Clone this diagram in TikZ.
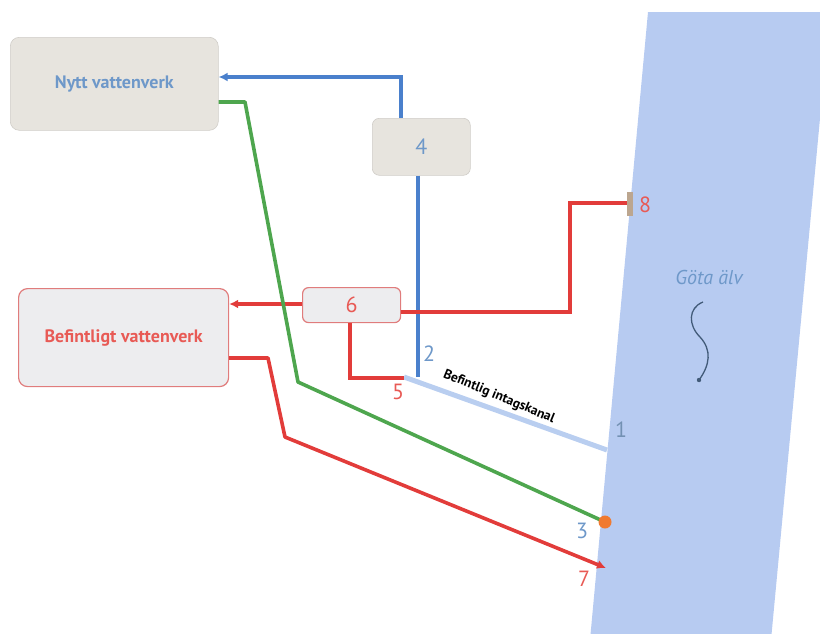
\documentclass[tikz,border=0pt]{standalone}
\usepackage{fontspec}
\setmainfont{PT Sans}
\usetikzlibrary{arrows.meta}
\definecolor{riverc}{HTML}{B7CBF1}
\definecolor{beige}{HTML}{E7E4DE}
\definecolor{greyfill}{HTML}{EDEDEF}
\definecolor{boxred}{HTML}{E07C7C}
\definecolor{lblue}{HTML}{4A80CC}
\definecolor{tblue}{HTML}{6E98C9}
\definecolor{lgreen}{HTML}{4EA64E}
\definecolor{lred}{HTML}{E23C3A}
\definecolor{tred}{HTML}{E85A55}
\definecolor{canal}{HTML}{B9CEF0}
\definecolor{dot}{HTML}{F07A30}
\begin{document}
\begin{tikzpicture}[x=1pt,y=-1pt,
  newbox/.style={draw=beige!90!black, fill=beige, rounded corners=9pt, line width=0.6pt, inner sep=0pt, anchor=north west},
  oldbox/.style={draw=boxred, fill=greyfill, rounded corners=9pt, line width=1.2pt, inner sep=0pt, anchor=north west},
  bigtxt/.style={font=\bfseries\fontsize{18}{20}\selectfont},
  numtxt/.style={font=\fontsize{22}{24}\selectfont, inner sep=0pt},
  bline/.style={lblue, line width=3.6pt},
  gline/.style={lgreen, line width=3.6pt},
  rline/.style={lred, line width=3.6pt},
  tip/.style={-{Latex[length=9pt,width=9pt]}}
]
\useasboundingbox (0,0) rectangle (820,633);
\begin{scope}
\clip (0,0) rectangle (820,633);
\fill[riverc] (648,12) -- (830,12) -- (771,640) -- (590,640) -- cycle;
\end{scope}

% boxes
\node[newbox, minimum width=208pt, minimum height=93pt] (nytt) at (10,37) {};
\node[bigtxt, text=tblue] at (nytt.center) {Nytt vattenverk};
\node[newbox, minimum width=98pt, minimum height=57pt, rounded corners=7pt] (b4) at (372,118) {};
\node[numtxt, text=tblue] at (b4.center) {4};
\node[oldbox, minimum width=210pt, minimum height=98pt] (bef) at (18,288) {};
\node[bigtxt, text=tred] at (bef.center) {Befintligt vattenverk};
\node[oldbox, minimum width=98pt, minimum height=35pt, rounded corners=6pt] (b6) at (302,287) {};
\node[numtxt, text=tred] at (b6.center) {6};

% coordinates
\coordinate (c2) at (418,377);
\coordinate (c5) at (404,377);
\coordinate (c1) at (607,450);
\coordinate (c3) at (605,522);
\coordinate (c7) at (606,568);
\coordinate (c8) at (628,203);

% canal
\draw[canal, line width=5pt] (c5) -- (c1);
\node[rotate=-22.5, font=\bfseries\fontsize{13.5}{15}\selectfont, inner sep=0pt] (kan) at (499,397) {Befintlig intagskanal};

% blue lines
\draw[bline, tip] (b4.north -| 401,0) -- (401,77) -- (nytt.east |- 0,77);
\draw[bline] (b4.south -| c2) -- (c2);

% red from 6
\draw[rline, tip] (b6.west |- 0,304) -- (bef.east |- 0,304);
\draw[rline] (b6.south -| 350,0) -- (350,378) -- (c5 |- 0,378);
\draw[rline] (b6.east |- 0,312) -- (570,312) -- (570,203) -- (c8);
\fill[fill=brown!50!gray!70] (627,192) rectangle (633,216);

% green
\draw[gline, line join=round] (nytt.east |- 0,102) -- (245,102) -- (298,382) -- (c3);
\fill[dot] (c3) circle (6.5pt);

% red from befintligt
\draw[rline, tip, line join=round] (bef.east |- 0,358) -- (268,358) -- (285,437) -- (c7);

% labels
\node[numtxt, text=tblue] (l2) at (429,354) {2};
\node[numtxt, text=tred] (l5) at (398,392) {5};
\node[numtxt, text=tblue!70!gray] (l1) at (621,430) {1};
\node[numtxt, text=tblue] (l3) at (582,531) {3};
\node[numtxt, text=tred] (l7) at (584,579) {7};
\node[numtxt, text=tred] (l8) at (645,205) {8};

% river label
\node[font=\itshape\fontsize{20}{22}\selectfont, text=tblue] (gota) at (709,277) {Göta älv};
\coordinate (w0) at (703,302);
\coordinate (w1) at (699,380);
\draw[tblue!60!black, line width=1.3pt] (w0) .. controls (688,308) and (688,325) .. (700,337) .. controls (712,350) and (710,365) .. (w1);
\fill[tblue!60!black] (w1) circle (2.2pt);
\end{tikzpicture}
\end{document}
